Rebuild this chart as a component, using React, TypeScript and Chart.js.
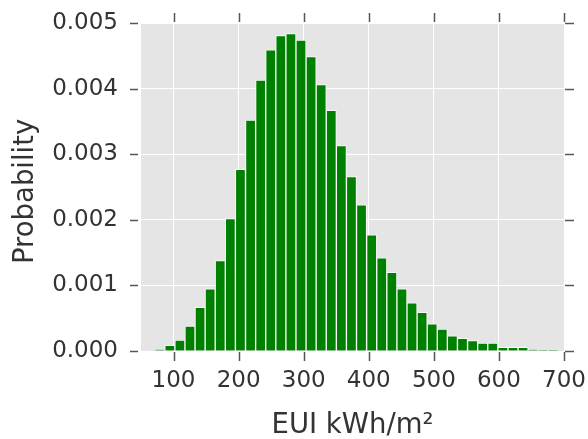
import React, { useEffect, useRef } from "react";
import { Chart, registerables } from "chart.js";

Chart.register(...registerables);

// Histogram bin centres (EUI kWh/m²)
const binCenters = [
  78.8, 94.3, 109.8, 125.3, 140.8, 156.3, 171.8, 187.3, 202.8, 218.4,
  233.9, 249.4, 264.9, 280.4, 295.9, 311.4, 326.9, 342.4, 357.9, 373.4,
  388.9, 404.5, 420.0, 435.5, 451.0, 466.5, 482.0, 497.5, 513.0, 528.5,
  544.0, 559.6, 575.1, 590.6, 606.1, 621.6, 637.1, 652.6, 668.1, 683.6,
];

// Probability density per bin
const probabilities = [
  0.00002, 0.000086, 0.000167, 0.00038, 0.000664, 0.000947, 0.00138, 0.00202, 0.00277, 0.00352,
  0.00413, 0.00459, 0.00481, 0.00484, 0.00474, 0.00449, 0.00406, 0.00367, 0.00313, 0.00266,
  0.00223, 0.00177, 0.00142, 0.0012, 0.000947, 0.000734, 0.000588, 0.000415, 0.000334, 0.000233,
  0.000193, 0.000157, 0.000122, 0.000122, 0.000056, 0.000056, 0.000056, 0.00002, 0.000015, 0.000015,
];

const xTicks = [100, 200, 300, 400, 500, 600, 700];
const yTicks = [0, 0.001, 0.002, 0.003, 0.004, 0.005];

const TEXT = "#333333";
const TICKMARK = "#555555";

export default function App() {
  const ref = useRef<HTMLCanvasElement>(null);

  useEffect(() => {
    const canvas = ref.current;
    if (!canvas) return;

    const bgPlugin = {
      id: "plotBg",
      beforeDraw(chart: any) {
        const { ctx, chartArea: a } = chart;
        ctx.save();
        ctx.fillStyle = "#E5E5E5";
        ctx.fillRect(a.left, a.top, a.right - a.left, a.bottom - a.top);
        ctx.restore();
      },
    };

    const tickPlugin = {
      id: "tickMarks",
      afterDraw(chart: any) {
        const { ctx, chartArea: a, scales } = chart;
        const x = scales.x;
        const y = scales.y;
        ctx.save();
        ctx.strokeStyle = TICKMARK;
        ctx.lineWidth = 1.5;
        const line = (x1: number, y1: number, x2: number, y2: number) => {
          ctx.beginPath();
          ctx.moveTo(x1, y1);
          ctx.lineTo(x2, y2);
          ctx.stroke();
        };
        xTicks.forEach((v) => {
          const px = Math.round(x.getPixelForValue(v)) + 0.5;
          line(px, a.bottom + 1, px, a.bottom + 10);
          line(px, a.top - 1, px, a.top - 10);
        });
        yTicks.forEach((v) => {
          const py = Math.round(y.getPixelForValue(v)) + 0.5;
          line(a.left - 3, py, a.left - 11, py);
          line(a.right + 1, py, a.right + 10, py);
        });
        ctx.restore();
      },
    };

    const chart = new Chart(canvas, {
      type: "bar",
      data: {
        datasets: [
          {
            data: binCenters.map((c, i) => ({ x: c, y: probabilities[i] })),
            backgroundColor: "#008000",
            borderColor: "rgba(255,255,255,0.85)",
            borderWidth: 1,
            borderSkipped: "start",
            barPercentage: 1,
            categoryPercentage: 1,
          },
        ],
      },
      options: {
        animation: false,
        responsive: false,
        devicePixelRatio: 1,
        layout: { padding: { top: 23, right: 24, left: 0, bottom: 0 } },
        plugins: { legend: { display: false }, tooltip: { enabled: false } },
        scales: {
          x: {
            type: "linear",
            offset: false,
            min: 50,
            max: 700,
            afterBuildTicks: (scale: any) => {
              scale.ticks = xTicks.map((v) => ({ value: v }));
            },
            afterFit: (scale: any) => {
              scale.height = 88;
              scale.paddingLeft = 0;
              scale.paddingRight = 0;
              scale.paddingTop = 0;
              scale.paddingBottom = 0;
            },
            grid: { color: "#FFFFFF", lineWidth: 1, drawTicks: false, offset: false },
            border: { display: false },
            ticks: {
              color: TEXT,
              padding: 16,
              maxRotation: 0,
              autoSkip: false,
              font: { family: "DejaVu Sans", size: 23 },
            },
            title: {
              display: true,
              text: "EUI kWh/m²",
              color: TEXT,
              font: { family: "DejaVu Sans", size: 27.5, lineHeight: 1 },
              padding: { top: 0, bottom: -1 },
            },
          },
          y: {
            min: 0,
            max: 0.005,
            afterBuildTicks: (scale: any) => {
              scale.ticks = yTicks.map((v) => ({ value: v }));
            },
            afterFit: (scale: any) => {
              scale.width = 141;
              scale.paddingLeft = 0;
              scale.paddingRight = 0;
              scale.paddingTop = 0;
              scale.paddingBottom = 0;
            },
            grid: { color: "#FFFFFF", lineWidth: 1, drawTicks: false },
            border: { display: false },
            ticks: {
              color: TEXT,
              padding: 23,
              font: { family: "DejaVu Sans", size: 23 },
              callback: (v: any) => Number(v).toFixed(3),
            },
            title: {
              display: true,
              text: "Probability ",
              color: TEXT,
              font: { family: "DejaVu Sans", size: 27.5, lineHeight: 1 },
              padding: { top: 12, bottom: 0 },
            },
          },
        },
      },
      plugins: [bgPlugin, tickPlugin],
    } as any);

    return () => chart.destroy();
  }, []);

  return (
    <div style={{ position: "absolute", left: 0, top: 0, width: 588, height: 439 }}>
      <canvas ref={ref} width={588} height={439} style={{ display: "block" }} />
    </div>
  );
}
